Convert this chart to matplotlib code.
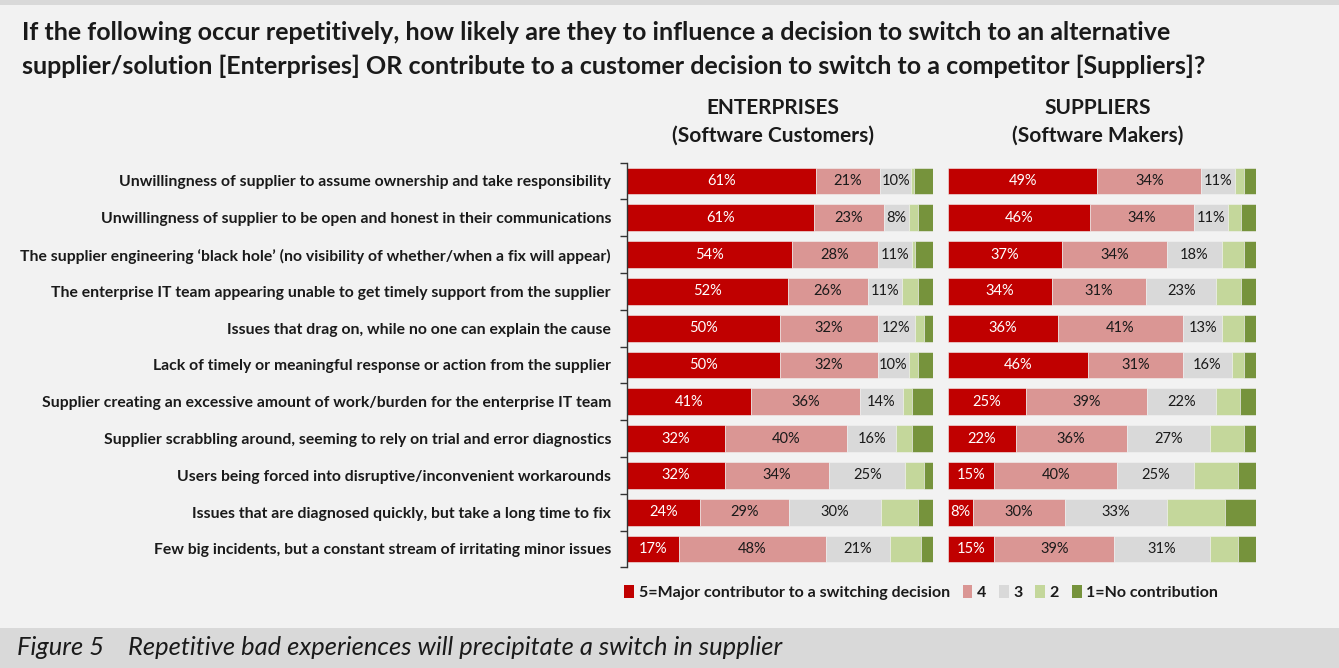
import matplotlib
matplotlib.use("Agg")
import matplotlib.pyplot as plt
import numpy as np
from matplotlib.patches import Patch, Rectangle

plt.rcParams["font.family"] = ["Lato", "DejaVu Sans"]

categories = [
    "Unwillingness of supplier to assume ownership and take responsibility",
    "Unwillingness of supplier to be open and honest in their communications",
    "The supplier engineering \u2018black hole\u2019 (no visibility of whether/when a fix will appear)",
    "The enterprise IT team appearing unable to get timely support from the supplier",
    "Issues that drag on, while no one can explain the cause",
    "Lack of timely or meaningful response or action from the supplier",
    "Supplier creating an excessive amount of work/burden for the enterprise IT team",
    "Supplier scrabbling around, seeming to rely on trial and error diagnostics",
    "Users being forced into disruptive/inconvenient workarounds",
    "Issues that are diagnosed quickly, but take a long time to fix",
    "Few big incidents, but a constant stream of irritating minor issues",
]

levels = ["5=Major contributor to a switching decision", "4", "3", "2", "1=No contribution"]

# Enterprises (Software Customers): columns are ratings 5,4,3,2,1
enterprises_5 = [61, 61, 54, 52, 50, 50, 41, 32, 32, 24, 17]
enterprises_4 = [21, 23, 28, 26, 32, 32, 36, 40, 34, 29, 48]
enterprises_3 = [10, 8, 11, 11, 12, 10, 14, 16, 25, 30, 21]
enterprises_2 = [1, 3, 1, 5, 3, 3, 3, 5, 6, 12, 10]
enterprises_1 = [6, 5, 6, 5, 3, 5, 7, 7, 3, 5, 4]

# Suppliers (Software Makers)
suppliers_5 = [49, 46, 37, 34, 36, 46, 25, 22, 15, 8, 15]
suppliers_4 = [34, 34, 34, 31, 41, 31, 39, 36, 40, 30, 39]
suppliers_3 = [11, 11, 18, 23, 13, 16, 22, 27, 25, 33, 31]
suppliers_2 = [3, 4, 7, 8, 7, 4, 8, 11, 14, 19, 9]
suppliers_1 = [4, 5, 4, 5, 4, 4, 5, 4, 6, 10, 6]

colors = ["#C00000", "#DA9694", "#D9D9D9", "#C4D79B", "#76933C"]
text_colors = ["white", "#1a1a1a", "#1a1a1a", None, None]
bg = "#F2F2F2"

fig = plt.figure(figsize=(13.39, 6.68), dpi=100, facecolor=bg)

ax_l = fig.add_axes([0.4683, 0.1506, 0.2285, 0.606])
ax_r = fig.add_axes([0.7080, 0.1506, 0.2300, 0.606])


def draw_panel(ax, series):
    raw = np.array(series, dtype=float).T
    data = raw / raw.sum(axis=1, keepdims=True) * 100
    y = np.arange(len(categories))
    left = np.zeros(len(categories))
    for k in range(data.shape[1]):
        ax.barh(y, data[:, k], left=left, height=0.73, color=colors[k],
                edgecolor=bg, linewidth=0.4)
        if text_colors[k]:
            for i in range(len(y)):
                ax.text(left[i] + data[i, k] / 2, y[i], f"{raw[i, k]:.0f}%",
                        ha="center", va="center", fontsize=10.5,
                        color=text_colors[k])
        left += data[:, k]
    ax.set_xlim(0, 100)
    ax.set_ylim(len(categories) - 0.5, -0.5)
    ax.set_facecolor(bg)
    for s in ax.spines.values():
        s.set_visible(False)
    ax.set_xticks([])


draw_panel(ax_l, [enterprises_5, enterprises_4, enterprises_3, enterprises_2, enterprises_1])
draw_panel(ax_r, [suppliers_5, suppliers_4, suppliers_3, suppliers_2, suppliers_1])

# left axis with category boundary ticks
ax_l.spines["left"].set_visible(True)
ax_l.spines["left"].set_color("#333333")
ax_l.spines["left"].set_linewidth(1.0)
ax_l.set_yticks(np.arange(len(categories)))
ax_l.set_yticklabels(categories, fontsize=11.3, fontweight="bold", color="#1a1a1a")
ax_l.tick_params(axis="y", which="major", length=0, pad=11.5)
ax_l.set_yticks(np.arange(len(categories) + 1) - 0.5, minor=True)
ax_l.tick_params(axis="y", which="minor", length=5, width=1.0, color="#333333")
ax_r.set_yticks([])

# panel headers
for x, head in [(0.577, "ENTERPRISES\n(Software Customers)"), (0.820, "SUPPLIERS\n(Software Makers)")]:
    fig.text(x, 0.818, head, ha="center", va="center", fontsize=15,
             fontweight="bold", color="#1a1a1a", linespacing=1.45)

# title
fig.text(0.0165, 0.952, "If the following occur repetitively, how likely are they to influence a decision to switch to an alternative",
         ha="left", va="center", fontsize=18, fontweight="bold", color="#1a1a1a")
fig.text(0.0165, 0.900, "supplier/solution [Enterprises] OR contribute to a customer decision to switch to a competitor [Suppliers]?",
         ha="left", va="center", fontsize=18, fontweight="bold", color="#1a1a1a")

# legend
handles = [Patch(facecolor=c, edgecolor="none") for c in colors]
leg = fig.legend(handles, levels, loc="center", bbox_to_anchor=(0.688, 0.113), ncol=5,
                 frameon=False, handlelength=0.6, handleheight=0.9, handletextpad=0.3,
                 columnspacing=0.8, prop={"size": 11.5, "weight": "bold"})
for t in leg.get_texts():
    t.set_color("#1a1a1a")

# top strip and caption band
fig.patches.append(Rectangle((0, 0.9925), 1, 0.0075, transform=fig.transFigure,
                             facecolor="#D9D9D9", edgecolor="none", zorder=0))
fig.patches.append(Rectangle((0, 0), 1, 0.06, transform=fig.transFigure,
                             facecolor="#D9D9D9", edgecolor="none", zorder=0))
fig.text(0.013, 0.030, "Figure 5    Repetitive bad experiences will precipitate a switch in supplier",
         ha="left", va="center", fontsize=18.4, style="italic", color="#1a1a1a")

fig.savefig("out.png", dpi=100, facecolor=bg)
